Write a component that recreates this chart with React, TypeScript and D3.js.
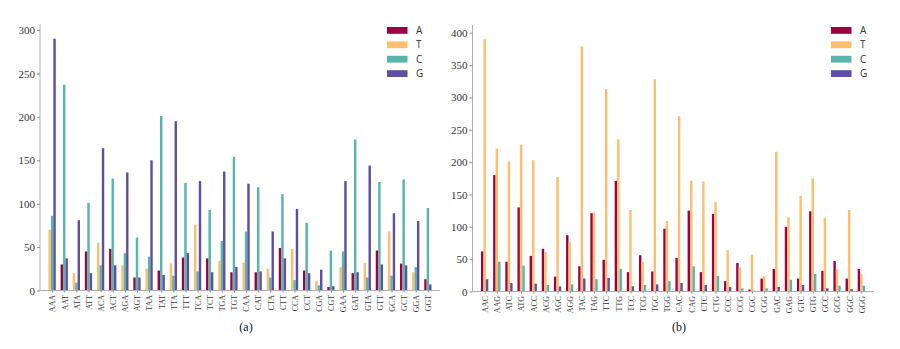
import React, { useEffect, useRef } from "react";
import * as d3 from "d3";

// codons for panel (a) end in A/T, panel (b) end in C/G
const codonsA = ["AAA","AAT","ATA","ATT","ACA","ACT","AGA","AGT","TAA","TAT","TTA","TTT","TCA","TCT","TGA","TGT",
  "CAA","CAT","CTA","CTT","CCA","CCT","CGA","CGT","GAA","GAT","GTA","GTT","GCA","GCT","GGA","GGT"];
const codonsB = ["AAC","AAG","ATC","ATG","ACC","ACG","AGC","AGG","TAC","TAG","TTC","TTG","TCC","TCG","TGC","TGG",
  "CAC","CAG","CTC","CTG","CCC","CCG","CGC","CGG","GAC","GAG","GTC","GTG","GCC","GCG","GGC","GGG"];

// null = the same base (no bar drawn)
const aValsA = [null,30,null,45,null,48,null,15,null,23,null,38,null,37,null,21,null,21,null,49,null,23,null,4,null,20,null,46,null,31,null,13];
const tValsA = [70,null,20,null,55,null,29,null,25,null,31,null,76,null,34,null,32,null,25,null,48,null,11,null,27,null,32,null,68,null,21,null];
const cValsA = [86,237,9,101,29,129,43,61,39,201,17,124,22,93,57,154,68,119,15,111,12,78,6,46,45,174,15,125,17,128,27,95];
const gValsA = [290,37,81,20,164,29,136,15,150,18,195,43,126,21,137,27,123,22,68,37,94,20,24,5,126,21,144,30,89,29,80,7];

const aValsB = [62,180,46,130,55,66,23,87,39,121,49,171,30,56,31,97,52,125,30,120,16,44,3,20,35,100,20,124,32,47,20,35];
const tValsB = [390,221,201,227,203,61,177,76,379,122,313,235,126,46,328,109,271,171,170,138,64,37,57,24,216,115,148,175,114,34,126,27];
const cValsB = [null,46,null,40,null,10,null,11,null,19,null,35,null,10,null,16,null,39,null,24,null,5,null,5,null,18,null,27,null,9,null,9];
const gValsB = [19,null,13,null,12,null,8,null,20,null,21,null,8,null,11,null,13,null,10,null,7,null,1,null,7,null,10,null,5,null,4,null];

const bases = ["A","T","C","G"];
const colors = ["#9e0142","#fdbf6f","#5ab4ac","#5e4fa2"];
const serif = "'Liberation Serif', 'Times New Roman', serif";

type Panel = {
  labels: string[];
  series: (number | null)[][];
  maxY: number;
  ticks: number[];
  x0: number; x1: number; y0: number; y1: number;
  legendX: number;
  caption: string;
  captionX: number;
};

const panels: Panel[] = [
  { labels: codonsA, series: [aValsA, tValsA, cValsA, gValsA], maxY: 307, ticks: d3.range(0, 301, 50),
    x0: 40, x1: 440, y0: 290.5, y1: 24, legendX: 387, caption: "(a)", captionX: 246 },
  { labels: codonsB, series: [aValsB, tValsB, cValsB, gValsB], maxY: 412, ticks: d3.range(0, 401, 50),
    x0: 472.5, x1: 873.5, y0: 291.5, y1: 25, legendX: 831, caption: "(b)", captionX: 679 },
];

export default function App() {
  const ref = useRef<SVGSVGElement>(null);

  useEffect(() => {
    const svg = d3.select(ref.current);
    svg.selectAll("*").remove();

    panels.forEach((p) => {
      const g = svg.append("g");
      const n = p.labels.length;
      const x = d3.scalePoint<string>().domain(p.labels).range([p.x0, p.x1]).padding(1);
      const y = d3.scaleLinear().domain([0, p.maxY]).range([p.y0, p.y1]);
      const bw = x.step() * 0.2;

      // bars: only the three bases that differ, packed side by side
      for (let i = 0; i < n; i++) {
        const present = p.series.map((s, k) => ({ k, v: s[i] })).filter((d) => d.v !== null);
        const cx = x(p.labels[i]) as number;
        present.forEach((d, j) => {
          const left = cx - (present.length * bw) / 2 + j * bw;
          g.append("rect")
            .attr("x", left)
            .attr("y", y(d.v as number))
            .attr("width", bw)
            .attr("height", y(0) - y(d.v as number))
            .attr("fill", colors[d.k]);
        });
      }

      // y axis
      const yAxis = d3.axisLeft(y).tickValues(p.ticks).tickSize(3).tickPadding(2);
      const ya = g.append("g").attr("transform", `translate(${p.x0},0)`).call(yAxis)
        .attr("font-family", serif);
      ya.select(".domain").attr("stroke", "#b0b0b0").attr("d", `M-0,${p.y0}V${p.y1}`);
      ya.selectAll(".tick line").attr("stroke", "#888");
      ya.selectAll("text").style("font-family", serif).attr("font-size", 11).attr("fill", "#333");

      // x axis
      const xAxis = d3.axisBottom(x).tickSize(2).tickPadding(2);
      const xa = g.append("g").attr("transform", `translate(0,${p.y0})`).call(xAxis)
        .attr("font-family", serif);
      xa.select(".domain").attr("stroke", "#b0b0b0").attr("d", `M${p.x0},0H${p.x1}`);
      xa.selectAll(".tick line").attr("stroke", "#888");
      xa.selectAll("text")
        .style("font-family", serif)
        .attr("font-size", 8)
        .attr("fill", "#333")
        .style("text-anchor", "end")
        .attr("dx", "-0.3em")
        .attr("dy", "0.35em")
        .attr("y", 0)
        .attr("transform", "rotate(-90) translate(-2,0)");

      // legend
      bases.forEach((b, k) => {
        const ly = 27 + k * 14.4;
        g.append("rect").attr("x", p.legendX).attr("y", ly).attr("width", 20.5).attr("height", 6.8).attr("fill", colors[k]);
        g.append("text").attr("x", p.legendX + 29).attr("y", ly + 7).text(b)
          .attr("font-family", "'Open Sans', sans-serif").attr("font-size", 10).attr("fill", "#333");
      });

      g.append("text").attr("x", p.captionX).attr("y", 331).attr("text-anchor", "middle")
        .style("font-family", serif).attr("font-size", 12).attr("fill", "#111").text(p.caption);
    });
  }, []);

  return <svg ref={ref} width={900} height={349} style={{ position: "absolute", left: 0, top: 0, background: "#fff" }} />;
}
